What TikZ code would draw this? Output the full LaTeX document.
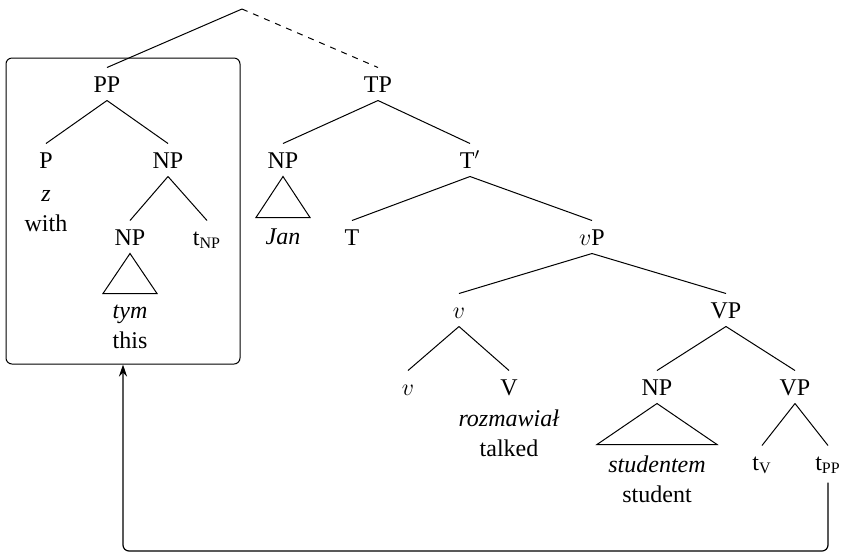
\documentclass[tikz,border=0pt,12pt]{standalone}
\usepackage{fontspec}
\setmainfont{Liberation Serif}
\usetikzlibrary{positioning,arrows.meta}

\tikzset{
  cat/.style={inner xsep=1pt, inner ysep=4pt, text height=8pt, text depth=0pt},
  gloss/.style={inner sep=0pt, text height=10pt, text depth=4.5pt},
  movearrow/.style={-{Stealth[length=6pt,width=4pt]}, rounded corners=3pt, line width=0.6pt}
}

\begin{document}
\begin{tikzpicture}[x=0.5pt, y=-0.5pt, line width=0.5pt]
\useasboundingbox (0,0) rectangle (842,554);
\coordinate (top) at (242,9);
\node[cat] (PP) at (107,84) {PP};
\node[cat] (TP) at (378,84) {TP};
%---------------------------------- PP
\node[cat] (P) at (46,160) {P};
\node[gloss, below=2pt of P] (z) {\textit{z}};
\node[gloss, below=0pt of z] (with) {with};
\node[cat] (NPa) at (168,160) {NP};
\node[cat] (NPb) at (130,237) {NP};
\node[cat] (tNP) at (207,237) {t\textsubscript{NP}};
\draw (NPb.south) -- ++(-27,40) -- ++(54,0) -- cycle;
\path (NPb.south) ++(0,40) coordinate (tymB);
\node[gloss, below=2pt of tymB] (tym) {\textit{tym}};
\node[gloss, below=0pt of tym] (this) {this};
\node[draw, rounded corners=3pt, minimum width=117pt, minimum height=153pt, inner sep=0pt] (box) at (123,211) {};
%---------------------------------- TP
\node[cat] (NPc) at (283,160) {NP};
\draw (NPc.south) -- ++(-27,41) -- ++(54,0) -- cycle;
\path (NPc.south) ++(0,41) coordinate (janB);
\node[gloss, below=3pt of janB] (jan) {\textit{Jan}};
\node[cat] (Tbar) at (470,160) {T$'$};
\node[cat] (T) at (352,237) {T};
\node[cat] (vP) at (592,237) {$v$P};
\node[cat] (v) at (459,310) {$v$};
\node[cat] (VP) at (726,310) {VP};
\node[cat] (vb) at (408,387) {$v$};
\node[cat] (V) at (509,387) {V};
\node[gloss, below=1pt of V] (rozm) {\textit{rozmawiał}};
\node[gloss, below=0pt of rozm] (talked) {talked};
\node[cat] (NPd) at (657,387) {NP};
\draw (NPd.south) -- ++(-60,41) -- ++(120,0) -- cycle;
\path (NPd.south) ++(0,41) coordinate (studB);
\node[gloss, below=3.5pt of studB] (stud) {\textit{studentem}};
\node[gloss, below=0pt of stud] (student) {student};
\node[cat] (VPb) at (795,387) {VP};
\node[cat] (tV) at (762,462) {t\textsubscript{V}};
\node[cat] (tPP) at (828,462) {t\textsubscript{PP}};
%---------------------------------- branches
\draw (top) -- (PP.north);
\draw[dashed] (top) -- (TP.north);
\draw (PP.south) -- (P.north);
\draw (PP.south) -- (NPa.north);
\draw (NPa.south) -- (NPb.north);
\draw (NPa.south) -- (tNP.north);
\draw (TP.south) -- (NPc.north);
\draw (TP.south) -- (Tbar.north);
\draw (Tbar.south) -- (T.north);
\draw (Tbar.south) -- (vP.north);
\draw (vP.south) -- (v.north);
\draw (vP.south) -- (VP.north);
\draw (v.south) -- (vb.north);
\draw (v.south) -- (V.north);
\draw (VP.south) -- (NPd.north);
\draw (VP.south) -- (VPb.north);
\draw (VPb.south) -- (tV.north);
\draw (VPb.south) -- (tPP.north);
%---------------------------------- movement
\coordinate (floor) at (0,551);
\draw[movearrow] ([yshift=-2pt]tPP.south) -- (tPP.south |- floor) -| (box.south);
\end{tikzpicture}
\end{document}
